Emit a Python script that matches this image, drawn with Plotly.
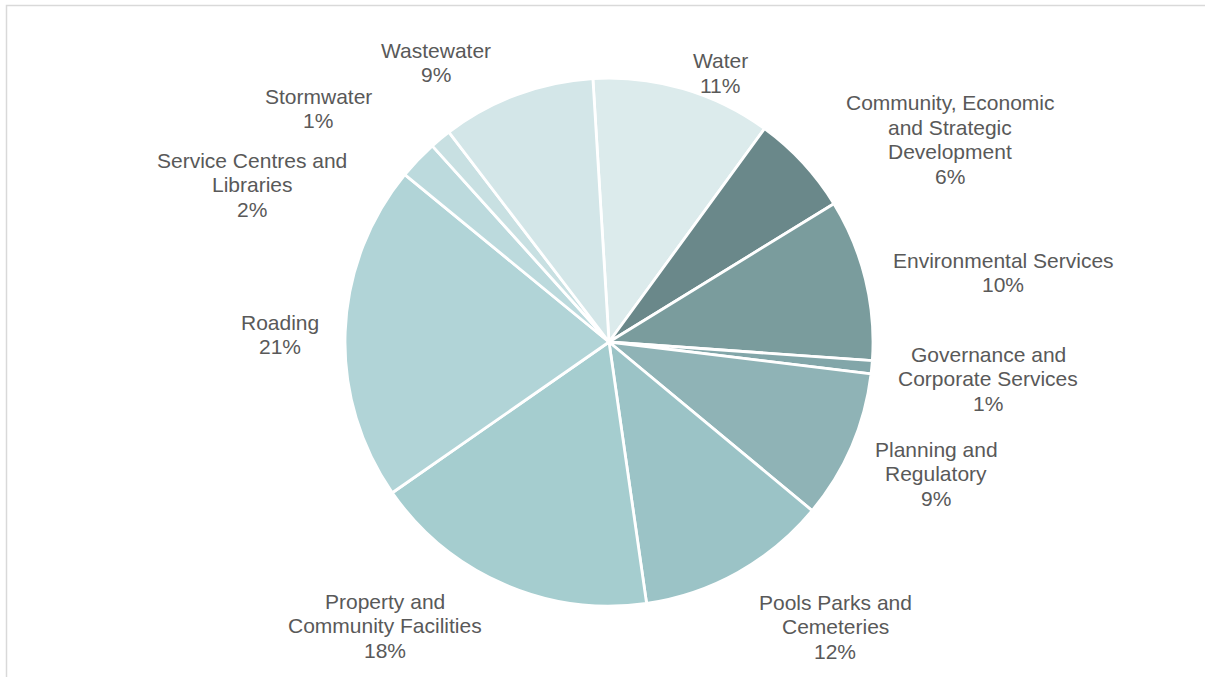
import plotly.graph_objects as go

categories = ["Water", "Community, Economic and Strategic Development", "Environmental Services",
              "Governance and Corporate Services", "Planning and Regulatory", "Pools Parks and Cemeteries",
              "Property and Community Facilities", "Roading", "Service Centres and Libraries",
              "Stormwater", "Wastewater"]
values = [11.0, 6.2, 9.9, 0.8, 9.1, 11.7, 17.6, 20.6, 2.4, 1.3, 9.4]

# label line breaks as in the reference
label_lines = [["Water"], ["Community, Economic", "and Strategic", "Development"], ["Environmental Services"],
               ["Governance and", "Corporate Services"], ["Planning and", "Regulatory"],
               ["Pools Parks and", "Cemeteries"], ["Property and", "Community Facilities"], ["Roading"],
               ["Service Centres and", "Libraries"], ["Stormwater"], ["Wastewater"]]

colors = ["#dcebec", "#6a888a", "#7a9c9d", "#82a6a9", "#8fb3b6", "#9bc3c6",
          "#a5cdcf", "#b1d4d7", "#bcdadd", "#c8e0e2", "#d3e6e8"]

# label centre x and first-line y (pixels)
label_pos = [(720, 61), (950, 103), (1003, 260), (988, 354), (936, 449), (835, 602),
             (385, 601), (280, 322), (252, 160), (318, 96), (436, 50)]
line_gap = 24.5

W, H = 1205, 677
cx, cy, r = 609, 342, 264

fig = go.Figure(go.Pie(
    labels=categories, values=values, sort=False, direction="clockwise", rotation=-3.5,
    textinfo="none", hoverinfo="label+percent",
    marker=dict(colors=colors, line=dict(color="white", width=2.8)),
    domain=dict(x=[(cx - r) / W, (cx + r) / W], y=[(H - cy - r) / H, (H - cy + r) / H]),
    showlegend=False,
))

total = sum(values)
for lines, v, (px, py) in zip(label_lines, values, label_pos):
    all_lines = lines + [f"{round(100 * v / total):.0f}%"]
    for i, t in enumerate(all_lines):
        fig.add_annotation(x=px / W, y=1 - (py + i * line_gap) / H, xref="paper", yref="paper",
                           text=t, showarrow=False, xanchor="center", yanchor="middle",
                           font=dict(family="Liberation Sans, Arial", size=21, color="#595959"))

fig.add_shape(type="rect", xref="paper", yref="paper", x0=6.5 / W, x1=1.02, y0=-0.02, y1=1 - 5.5 / H,
              line=dict(color="#d9d9d9", width=1.5), fillcolor="rgba(0,0,0,0)")

fig.update_layout(width=W, height=H, margin=dict(l=0, r=0, t=0, b=0),
                  paper_bgcolor="white", plot_bgcolor="white")
fig.write_html("out.html", config={"displayModeBar": False},
               post_script="document.body.style.margin='0';document.body.style.overflow='hidden';")
